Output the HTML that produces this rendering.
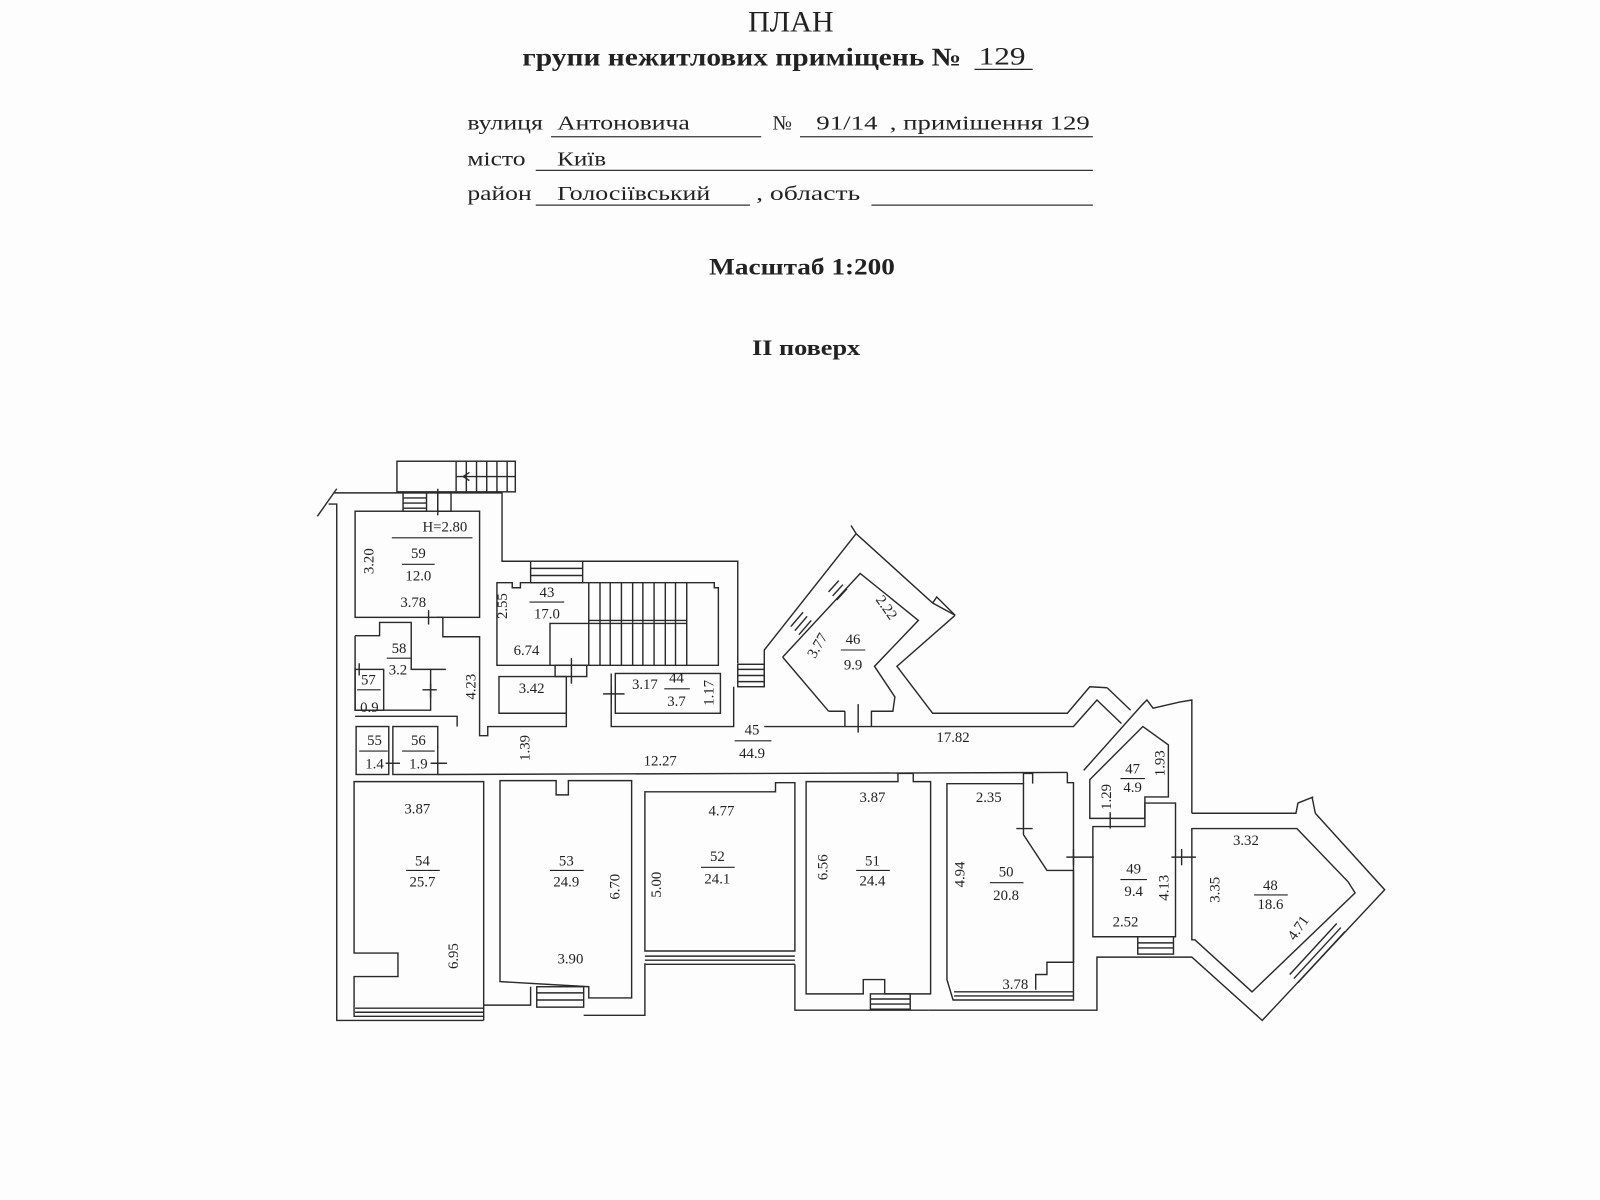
<!DOCTYPE html>
<html><head><meta charset="utf-8"><style>
html,body{margin:0;padding:0;background:#fdfdfd}
svg{display:block}
text{font-family:"Liberation Serif",serif;fill:#222}
.w{fill:none;stroke:#2a2a2a;stroke-width:1.4;stroke-linejoin:miter}
.t{font-size:14.5px;text-anchor:middle}
</style></head><body>
<svg width="1600" height="1200" viewBox="0 0 1568 1176" xmlns="http://www.w3.org/2000/svg">
<rect width="1568" height="1176" fill="#fdfdfd"/>
<!-- header -->
<text x="733" y="31" textLength="84" lengthAdjust="spacingAndGlyphs" style="font-size:29px">ПЛАН</text>
<text x="512" y="64" textLength="430" lengthAdjust="spacingAndGlyphs" style="font-size:25px;font-weight:bold">групи нежитлових приміщень №</text>
<text x="959" y="63" textLength="46" lengthAdjust="spacingAndGlyphs" style="font-size:25px">129</text>
<line x1="955" y1="68" x2="1012" y2="68" stroke="#222" stroke-width="1.3"/>
<g style="font-size:20px">
<text x="458" y="127" textLength="74" lengthAdjust="spacingAndGlyphs">вулиця</text>
<text x="546" y="127" textLength="130" lengthAdjust="spacingAndGlyphs">Антоновича</text>
<text x="757" y="127">№</text>
<text x="800" y="127" textLength="60" lengthAdjust="spacingAndGlyphs">91/14</text>
<text x="872" y="127" textLength="196" lengthAdjust="spacingAndGlyphs">, примішення 129</text>
<text x="458" y="162" textLength="57" lengthAdjust="spacingAndGlyphs">місто</text>
<text x="546" y="162" textLength="48" lengthAdjust="spacingAndGlyphs">Київ</text>
<text x="458" y="196" textLength="63" lengthAdjust="spacingAndGlyphs">район</text>
<text x="546" y="196" textLength="150" lengthAdjust="spacingAndGlyphs">Голосіївський</text>
<text x="741" y="196" textLength="102" lengthAdjust="spacingAndGlyphs">, область</text>
</g>
<g stroke="#333" stroke-width="1.2">
<line x1="540" y1="134" x2="746" y2="134"/>
<line x1="784" y1="134" x2="1071" y2="134"/>
<line x1="525" y1="167" x2="1071" y2="167"/>
<line x1="525" y1="201" x2="735" y2="201"/>
<line x1="854" y1="201" x2="1071" y2="201"/>
</g>
<text x="695" y="269" textLength="182" lengthAdjust="spacingAndGlyphs" style="font-size:23px;font-weight:bold">Масштаб 1:200</text>
<text x="737" y="348" textLength="106" lengthAdjust="spacingAndGlyphs" style="font-size:22px;font-weight:bold">II поверх</text>

<!-- plan -->
<g class="w">
<rect x="389" y="452" width="116" height="30"/>
<line x1="447" y1="452" x2="447" y2="482"/><line x1="457" y1="452" x2="457" y2="482"/><line x1="467" y1="452" x2="467" y2="482"/><line x1="477" y1="452" x2="477" y2="482"/><line x1="487" y1="452" x2="487" y2="482"/><line x1="497" y1="452" x2="497" y2="482"/>
<line x1="447" y1="467" x2="505" y2="467"/>
<path d="M454,467 l6,-4 M454,467 l6,4"/>
<path d="M311,506 L330,479"/>
<path d="M322,494 L330,494 L330,1000 L474,1000"/>
<path d="M327,483 L492,483 L492,550 L520,550 M571,550 L723,550 L723,650"/>
<rect x="395" y="483" width="23" height="18"/>
<line x1="395" y1="488" x2="418" y2="488"/><line x1="395" y1="493" x2="418" y2="493"/><line x1="395" y1="498" x2="418" y2="498"/>
<rect x="429" y="483" width="13" height="18"/><line x1="429" y1="479" x2="429" y2="505"/>
<rect x="348" y="501" width="122" height="104"/>
<line x1="420" y1="598" x2="420" y2="612"/>
<path d="M348,623 L372,623 L372,610 L403,610 L403,656 L437,656 M422,656 L422,696 L377,696 M348,623 L348,696 L377,696"/>
<path d="M428,605 L434,605 L434,624 L470,624 L470,721 L478,721 L478,712 L555,712 L555,699 L489,699 L489,663 L555,663 L555,699"/>
<rect x="348" y="656" width="28" height="40"/>
<line x1="352" y1="650" x2="352" y2="662"/>
<line x1="414" y1="676" x2="428" y2="676"/><line x1="422" y1="670" x2="422" y2="684"/>
<path d="M348,702 L448,702 L448,712"/>
<rect x="349" y="712" width="32" height="47"/>
<rect x="385" y="712" width="44" height="47"/>
<line x1="378" y1="748" x2="392" y2="748"/><line x1="422" y1="748" x2="438" y2="748"/>
<rect x="520" y="550" width="51" height="21"/>
<line x1="520" y1="557" x2="571" y2="557"/><line x1="520" y1="564" x2="571" y2="564"/>
<path d="M487,571 L502,571 L502,576 L510,576 L510,571 L700,571 L700,576 L704,576 L704,652 L487,652 Z"/>
<path d="M539,652 L539,611 L673,611 M577,571 L577,652 M673,571 L673,652"/>
<g>
<line x1="588" y1="571" x2="588" y2="652"/><line x1="598" y1="571" x2="598" y2="652"/><line x1="609" y1="571" x2="609" y2="652"/><line x1="620" y1="571" x2="620" y2="652"/><line x1="630" y1="571" x2="630" y2="652"/><line x1="641" y1="571" x2="641" y2="652"/><line x1="652" y1="571" x2="652" y2="652"/><line x1="662" y1="571" x2="662" y2="652"/>
<line x1="577" y1="608" x2="673" y2="608"/>
</g>
<rect x="544" y="652" width="31" height="11"/>
<line x1="560" y1="645" x2="560" y2="670"/>
<rect x="603" y="660" width="103" height="39"/>
<path d="M599,660 L599,712 L719,712 L719,673"/>
<line x1="591" y1="680" x2="612" y2="680"/><line x1="599" y1="672" x2="599" y2="690"/>
<rect x="723" y="651" width="26" height="22"/>
<line x1="723" y1="656" x2="749" y2="656"/><line x1="723" y1="662" x2="749" y2="662"/><line x1="723" y1="668" x2="749" y2="668"/>
<path d="M749,673 L749,637 L839,523 L914,591 L936,603"/>
<path d="M839,523 L834,515 M914,591 L918,585 L936,603"/>
<path d="M936,603 L879,653 L914,699 L1046,699 L1068,673 L1085,674"/>
<path d="M767,644 L843,562 L900,608 L857,653 L877,683 L875,697 L854,697 L854,712 M828,697 L812,697 Z"/>
<path d="M812,697 L767,644"/>
<line x1="828" y1="697" x2="828" y2="712"/><line x1="841" y1="690" x2="841" y2="718"/>
<path d="M775,614 l12,-14 M779,618 l12,-14 M783,622 l12,-14"/>
<path d="M812,580 l10,-11 M816,584 l10,-11 M820,588 l10,-11"/>
<path d="M749,712 L1052,712 L1075,686 L1099,709"/>
<path d="M1085,674 L1108,696"/>
<path d="M429,759 L1046,757"/>
<path d="M347,766 L474,766 L474,996 L347,996 L347,957 L390,957 L390,934 L347,934 Z"/>
<line x1="348" y1="988" x2="474" y2="988"/><line x1="348" y1="992" x2="474" y2="992"/>
<path d="M474,996 L474,1000 M474,985 L520,985 L520,967"/>
<path d="M490,765 L545,765 L545,779 L557,779 L557,765 L619,765 L619,978 L577,978 L577,967 L490,962 Z"/>
<rect x="526" y="967" width="46" height="20"/>
<line x1="526" y1="973" x2="572" y2="973"/><line x1="526" y1="980" x2="572" y2="980"/>
<path d="M572,995 L632,995 L632,944"/>
<path d="M632,776 L760,776 L760,767 L779,767 L779,932 L632,932 Z"/>
<line x1="632" y1="937" x2="779" y2="937"/><line x1="632" y1="941" x2="779" y2="941"/><line x1="632" y1="945" x2="779" y2="945"/>
<path d="M779,945 L779,990 L910,990"/>
<path d="M790,766 L880,766 L880,758 L895,758 L895,766 L912,766 L912,974 L867,974 L867,960 L846,960 L846,974 L790,974 Z"/>
<rect x="853" y="974" width="39" height="15"/><line x1="853" y1="979" x2="892" y2="979"/><line x1="853" y1="984" x2="892" y2="984"/>
<path d="M910,990 L1075,990 L1075,938 L1168,938 L1237,1000 L1357,872 L1289,797 M1289,797 L1286,782 M1168,797 L1270,797 L1272,787 L1287,781"/>
<path d="M928,768 L1003,768 L1003,818 L1026,853 L1052,853 L1052,980 L934,980 L928,960 Z"/>
<path d="M1003,768 L1003,758 L1012,758 L1012,768"/>
<line x1="935" y1="972" x2="1052" y2="972"/><line x1="935" y1="976" x2="1052" y2="976"/>
<path d="M1052,853 L1052,943 L1026,943 L1026,955 L1015,955 L1015,970"/>
<line x1="996" y1="812" x2="1012" y2="812"/>
<line x1="1045" y1="840" x2="1072" y2="840"/><line x1="1052" y1="832" x2="1052" y2="848"/>
<path d="M1068,764 L1120,712 L1145,730 L1145,781 L1122,781 L1122,787 L1122,802 L1068,802 Z"/>
<path d="M1046,757 L1046,767 L1052,767 L1052,853 M1062,755 L1119,691 L1124,686 L1130,694 L1156,688 L1168,686 L1168,797"/>
<line x1="1088" y1="796" x2="1088" y2="812"/>
<path d="M1071,810 L1122,810 L1122,787 L1152,787 L1152,918 L1071,918 Z"/>
<rect x="1115" y="918" width="35" height="17"/><line x1="1115" y1="924" x2="1150" y2="924"/><line x1="1115" y1="929" x2="1150" y2="929"/>
<line x1="1148" y1="840" x2="1172" y2="840"/><line x1="1158" y1="832" x2="1158" y2="848"/>
<path d="M1168,812 L1271,812 L1321,864 L1328,875 L1227,972 L1171,921 L1168,921 Z"/>
<path d="M1264,955 L1310,905 M1268,959 L1314,909 M1272,963 L1318,913"/>
</g>

<g class="t">
<text x="436" y="521">Н=2.80</text>
<text x="410" y="547">59</text><text x="410" y="569">12.0</text>
<text x="405" y="595">3.78</text>
<text x="391" y="640">58</text><text x="390" y="661">3.2</text>
<text x="361" y="671">57</text><text x="362" y="698">0.9</text>
<text x="367" y="730">55</text><text x="367" y="753">1.4</text>
<text x="410" y="730">56</text><text x="410" y="753">1.9</text>
<text x="647" y="750">12.27</text>
<text x="737" y="720">45</text><text x="737" y="743">44.9</text>
<text x="536" y="585">43</text><text x="536" y="606">17.0</text>
<text x="516" y="642">6.74</text>
<text x="521" y="679">3.42</text>
<text x="632" y="675">3.17</text>
<text x="663" y="669">44</text><text x="663" y="692">3.7</text>
<text x="836" y="631">46</text><text x="836" y="656">9.9</text>
<text x="934" y="727">17.82</text>
<text x="409" y="797">3.87</text>
<text x="414" y="848">54</text><text x="414" y="869">25.7</text>
<text x="555" y="848">53</text><text x="555" y="869">24.9</text>
<text x="559" y="944">3.90</text>
<text x="707" y="799">4.77</text>
<text x="703" y="844">52</text><text x="703" y="866">24.1</text>
<text x="855" y="786">3.87</text>
<text x="855" y="848">51</text><text x="855" y="868">24.4</text>
<text x="969" y="786">2.35</text>
<text x="986" y="859">50</text><text x="986" y="882">20.8</text>
<text x="995" y="969">3.78</text>
<text x="1110" y="758">47</text><text x="1110" y="776">4.9</text>
<text x="1111" y="856">49</text><text x="1111" y="878">9.4</text>
<text x="1103" y="908">2.52</text>
<text x="1245" y="872">48</text><text x="1245" y="891">18.6</text>
<text x="1221" y="828">3.32</text>
<text transform="translate(366,550) rotate(-90)">3.20</text>
<text transform="translate(466,673) rotate(-90)">4.23</text>
<text transform="translate(519,733) rotate(-90)">1.39</text>
<text transform="translate(497,594) rotate(-90)">2.55</text>
<text transform="translate(699,679) rotate(-90)">1.17</text>
<text transform="translate(449,937) rotate(-90)">6.95</text>
<text transform="translate(607,869) rotate(-90)">6.70</text>
<text transform="translate(648,867) rotate(-90)">5.00</text>
<text transform="translate(811,850) rotate(-90)">6.56</text>
<text transform="translate(945,857) rotate(-90)">4.94</text>
<text transform="translate(1141,748) rotate(-90)">1.93</text>
<text transform="translate(1089,781) rotate(-90)">1.29</text>
<text transform="translate(1145,870) rotate(-90)">4.13</text>
<text transform="translate(1195,872) rotate(-90)">3.35</text>
<text transform="translate(805,635) rotate(-60)">3.77</text>
<text transform="translate(865,598) rotate(55)">2.22</text>
<text transform="translate(1276,912) rotate(-55)">4.71</text>
</g>
<g stroke="#222" stroke-width="1.1">
<line x1="384" y1="527" x2="463" y2="527"/>
<line x1="394" y1="553" x2="426" y2="553"/>
<line x1="379" y1="645" x2="403" y2="645"/>
<line x1="350" y1="676" x2="373" y2="676"/>
<line x1="352" y1="736" x2="380" y2="736"/>
<line x1="394" y1="736" x2="426" y2="736"/>
<line x1="720" y1="726" x2="756" y2="726"/>
<line x1="519" y1="590" x2="553" y2="590"/>
<line x1="651" y1="675" x2="676" y2="675"/>
<line x1="824" y1="637" x2="848" y2="637"/>
<line x1="398" y1="853" x2="431" y2="853"/>
<line x1="539" y1="853" x2="572" y2="853"/>
<line x1="687" y1="850" x2="720" y2="850"/>
<line x1="839" y1="853" x2="872" y2="853"/>
<line x1="970" y1="865" x2="1003" y2="865"/>
<line x1="1098" y1="763" x2="1122" y2="763"/>
<line x1="1098" y1="862" x2="1124" y2="862"/>
<line x1="1229" y1="877" x2="1262" y2="877"/>
</g>
</svg>
</body></html>
